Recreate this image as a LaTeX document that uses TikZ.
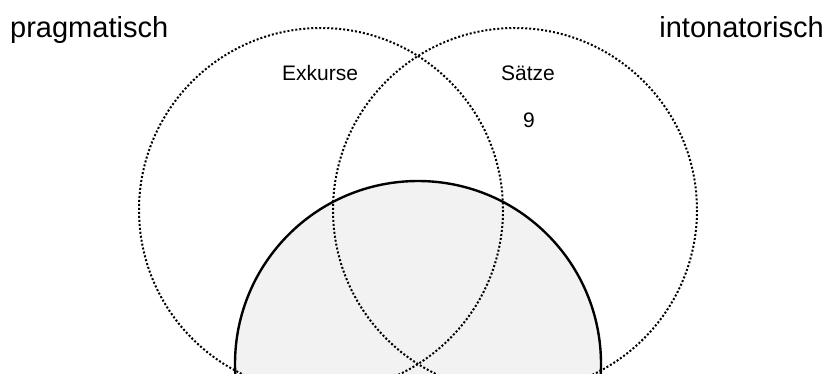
\documentclass[tikz,border=0pt]{standalone}
\usepackage{fontspec}
\setmainfont{Liberation Sans}
\definecolor{lightfill}{HTML}{F2F2F2}
\tikzset{
  dotcircle/.style={draw=black, line width=2pt, dash pattern=on 2pt off 2pt},
  solidcircle/.style={draw=black, line width=2.4pt},
  biglabel/.style={inner sep=0pt, font=\fontsize{29}{33}\selectfont},
  smalllabel/.style={inner sep=0pt, font=\fontsize{21}{25}\selectfont, anchor=base},
}
\begin{document}
\begin{tikzpicture}[x=1pt,y=-1pt]
\useasboundingbox (0,0) rectangle (824,373);
\clip (0,0) rectangle (824,373);
\fill[lightfill] (418,364) circle[radius=183];
\draw[dotcircle] (321,210) circle[radius=182];
\draw[dotcircle] (515,210) circle[radius=182];
\draw[solidcircle] (418,364) circle[radius=183];
\node[biglabel, anchor=base west] (prag) at (10,37) {pragmatisch};
\node[biglabel, anchor=base east] (inton) at (824,37) {intonatorisch};
\node[smalllabel] (exk) at (320,80) {Exkurse};
\node[smalllabel] (saetze) at (528,80) {Sätze};
\node[smalllabel] (nine) at (529,127) {9};
\end{tikzpicture}
\end{document}
